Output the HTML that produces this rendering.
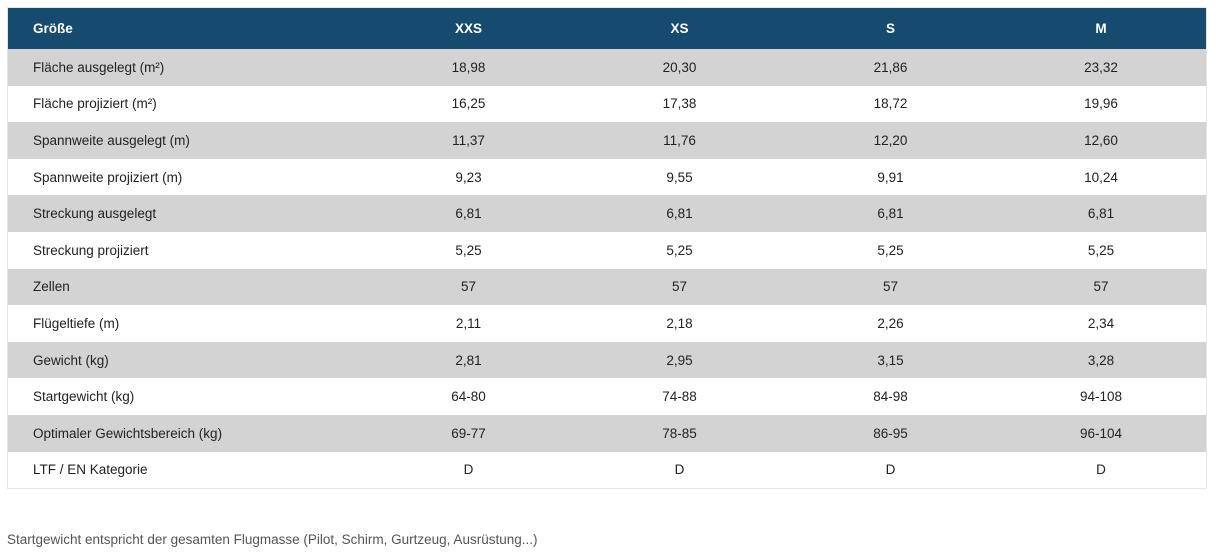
<!DOCTYPE html>
<html><head><meta charset="utf-8"><style>
html,body{margin:0;padding:0;background:#fff;width:1216px;height:558px;overflow:hidden;font-family:"Liberation Sans",sans-serif;}
table{position:absolute;left:7px;top:7px;width:1199px;border-collapse:collapse;table-layout:fixed;border:1px solid #e6e6e6;}
th,td{height:36.6px;padding:0;font-size:13.5px;color:#222;text-align:center;}
th{background:#164a6e;color:#fff;font-weight:bold;height:41px;font-size:13.5px;}
th:first-child,td:first-child{text-align:left;padding-left:25px;}
tr:nth-child(odd) td{background:#d3d3d3;}
tr:nth-child(even) td{background:#fff;}
.note{position:absolute;left:7px;top:532px;font-size:13.5px;color:#555;}
</style></head><body>
<table>
<colgroup><col style="width:355.5px"><col style="width:211px"><col style="width:211px"><col style="width:211px"><col style="width:210.5px"></colgroup>
<thead><tr><th>Größe</th><th>XXS</th><th>XS</th><th>S</th><th>M</th></tr></thead>
<tbody>
<tr><td>Fläche ausgelegt (m²)</td><td>18,98</td><td>20,30</td><td>21,86</td><td>23,32</td></tr>
<tr><td>Fläche projiziert (m²)</td><td>16,25</td><td>17,38</td><td>18,72</td><td>19,96</td></tr>
<tr><td>Spannweite ausgelegt (m)</td><td>11,37</td><td>11,76</td><td>12,20</td><td>12,60</td></tr>
<tr><td>Spannweite projiziert (m)</td><td>9,23</td><td>9,55</td><td>9,91</td><td>10,24</td></tr>
<tr><td>Streckung ausgelegt</td><td>6,81</td><td>6,81</td><td>6,81</td><td>6,81</td></tr>
<tr><td>Streckung projiziert</td><td>5,25</td><td>5,25</td><td>5,25</td><td>5,25</td></tr>
<tr><td>Zellen</td><td>57</td><td>57</td><td>57</td><td>57</td></tr>
<tr><td>Flügeltiefe (m)</td><td>2,11</td><td>2,18</td><td>2,26</td><td>2,34</td></tr>
<tr><td>Gewicht (kg)</td><td>2,81</td><td>2,95</td><td>3,15</td><td>3,28</td></tr>
<tr><td>Startgewicht (kg)</td><td>64-80</td><td>74-88</td><td>84-98</td><td>94-108</td></tr>
<tr><td>Optimaler Gewichtsbereich (kg)</td><td>69-77</td><td>78-85</td><td>86-95</td><td>96-104</td></tr>
<tr><td>LTF / EN Kategorie</td><td>D</td><td>D</td><td>D</td><td>D</td></tr>
</tbody></table>
<div class="note">Startgewicht entspricht der gesamten Flugmasse (Pilot, Schirm, Gurtzeug, Ausrüstung...)</div>
</body></html>
